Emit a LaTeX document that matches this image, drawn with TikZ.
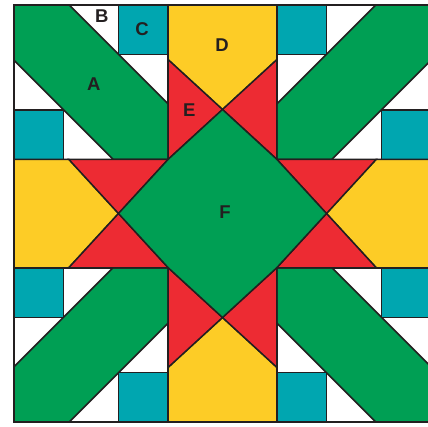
\documentclass[tikz,border=0pt]{standalone}
\usepackage{fontspec}
\setmainfont{Liberation Sans}
\definecolor{qgreen}{HTML}{009F54}
\definecolor{qteal}{HTML}{00A6B0}
\definecolor{qyellow}{HTML}{FDCC26}
\definecolor{qred}{HTML}{ED2B33}
\definecolor{qline}{HTML}{231F20}
\newcommand{\qH}{208.5}
\newcommand{\qh}{54.25}
\newcommand{\qt}{49.5}
\newcommand{\qd}{104}
\newcommand{\qp}{153.75}
\newcommand{\qa}{153.25}
\newcommand{\qb}{109.5}
\begin{document}
\begin{tikzpicture}[x=1pt,y=1pt,
  piece/.style={draw=qline, line width=1.5pt, line join=miter},
  lbl/.style={font=\fontsize{18.5}{18.5}\selectfont\bfseries, text=qline, inner sep=0pt}]
\useasboundingbox (-222.5,-212.5) rectangle (205.5,213.5);
\fill[white] (-222.5,-212.5) rectangle (205.5,213.5);
% corner blocks
\foreach \sx/\sy in {1/1,-1/1,1/-1,-1/-1}{
  \begin{scope}[xscale=\sx,yscale=\sy]
    \filldraw[piece, fill=white] (-\qH,\qh) rectangle (-\qh,\qH);
    \filldraw[piece, fill=qgreen] (-\qH,\qH) -- (-\qa,\qH) -- (-\qh,\qb) -- (-\qh,\qh) -- (-\qb,\qh) -- (-\qH,\qa) -- cycle;
    \filldraw[piece, fill=qteal] (-\qh-\qt,\qH-\qt) rectangle (-\qh,\qH);
    \filldraw[piece, fill=qteal] (-\qH,\qh) rectangle (-\qH+\qt,\qh+\qt);
  \end{scope}}
% side pieces
\foreach \r in {0,90,180,270}{
  \begin{scope}[rotate=\r]
    \filldraw[piece, fill=qyellow] (-\qh,\qH) -- (\qh,\qH) -- (\qh,\qp) -- (0,\qd) -- (-\qh,\qp) -- cycle;
    \filldraw[piece, fill=qred] (-\qh,\qp) -- (0,\qd) -- (-\qh,\qh) -- cycle;
    \filldraw[piece, fill=qred] (\qh,\qp) -- (0,\qd) -- (\qh,\qh) -- cycle;
  \end{scope}}
% centre
\filldraw[piece, fill=qgreen] (0,\qd) -- (\qh,\qh) -- (\qd,0) -- (\qh,-\qh) -- (0,-\qd) -- (-\qh,-\qh) -- (-\qd,0) -- (-\qh,\qh) -- cycle;
% outer border
\draw[qline, line width=2.2pt] (-\qH,-\qH) rectangle (\qH,\qH);
% labels
\node[lbl] (la) at (-128.8,129.5) {A};
\node[lbl] (lb) at (-120.8,197) {B};
\node[lbl] (lc) at (-80.5,184) {C};
\node[lbl] (ld) at (-0.5,168.5) {D};
\node[lbl] (le) at (-33.2,103) {E};
\node[lbl] (lf) at (2.5,1.5) {F};
\end{tikzpicture}
\end{document}
